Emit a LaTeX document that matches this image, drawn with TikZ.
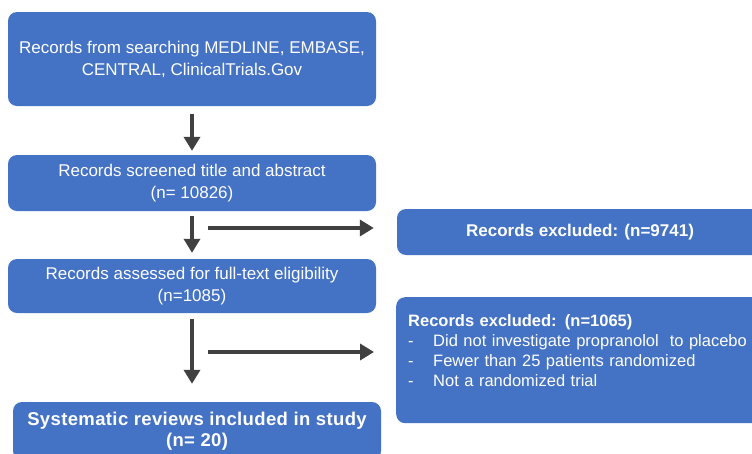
\documentclass[tikz,border=0pt]{standalone}
\usepackage{fontspec}
\setmainfont{Liberation Sans}
\usetikzlibrary{arrows.meta}
\definecolor{boxblue}{HTML}{4472C4}
\definecolor{arrowgrey}{HTML}{404040}
\newcommand{\exitem}{\makebox[25pt][l]{-}}

\begin{document}
\begin{tikzpicture}[x=1pt,y=-1pt]
  \tikzset{stage/.style={rounded corners=9pt, fill=boxblue, text=white, align=center,
      font=\fontsize{17}{22}\selectfont, minimum width=368pt, inner sep=0pt},
    flow/.style={draw=arrowgrey, line width=4pt, -{Triangle[width=16pt,length=14pt,fill=arrowgrey]}}}
  \fill[white] (0,0) rectangle (752,453);
  \clip (0,0) rectangle (752,453);
  \node[stage, minimum height=94pt] (search) at (192,59)
    {Records from searching MEDLINE, EMBASE,\\CENTRAL, ClinicalTrials.Gov};
  \node[stage, minimum height=56pt] (screen) at (192,183)
    {Records screened title and abstract\\(n= 10826)};
  \node[stage, minimum height=54pt] (assess) at (192,286)
    {Records assessed for full-text eligibility\\(n=1085)};
  \node[stage, minimum height=58pt, font=\bfseries\fontsize{18.5}{21}\selectfont\addfontfeature{LetterSpace=2}] (incl) at (197,431)
    {Systematic reviews included in study\\(n= 20)};
  \node[stage, minimum height=46pt, minimum width=366pt, font=\bfseries\fontsize{17}{22}\selectfont] (excl1) at (580,232)
    {Records excluded: (n=9741)};
  \node[stage, anchor=north west, align=left, text width=344pt, inner xsep=12pt,
    text height=29pt, text depth=97pt, font=\fontsize{16.5}{20}\selectfont] (excl2) at (396,297)
    {\textbf{Records excluded: (n=1065)}\\
     \exitem Did not investigate propranolol\ \ to placebo\\
     \exitem Fewer than 25 patients randomized\\
     \exitem Not a randomized trial};
  % arrows
  \coordinate (cut1) at (208,228);
  \coordinate (cut2) at (208,352);
  \draw[flow, shorten <=8pt, shorten >=4pt] (search.south) -- (screen.north);
  \draw[flow, shorten <=5pt, shorten >=6pt] (screen.south) -- (assess.north);
  \draw[flow, shorten <=6pt, shorten >=18pt] (assess.south) -- (assess.south |- incl.north);
  \draw[flow, shorten >=23pt] (cut1) -- (cut1 -| excl1.west);
  \draw[flow, shorten >=22pt] (cut2) -- (cut2 -| excl2.west);
\end{tikzpicture}
\end{document}
